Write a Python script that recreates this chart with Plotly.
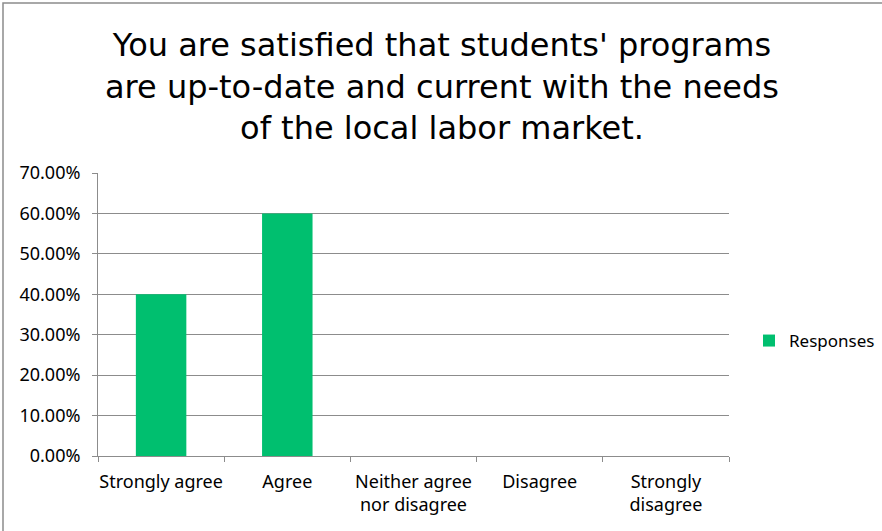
import plotly.graph_objects as go

categories = ["Strongly agree", "Agree", "Neither agree<br>nor disagree", "Disagree", "Strongly<br>disagree"]
responses = [0.40, 0.60, 0.0, 0.0, 0.0]
series_name = "Responses"
title_text = "You are satisfied that students' programs<br>are up-to-date and current with the needs<br>of the local labor market."

W, H = 882, 531
L, R, T, B = 98, 153, 173, 75
pw, ph = W - L - R, H - T - B

def px_x(x):
    return (x - L) / pw

def px_y(y):
    return (H - B - y) / ph

fig = go.Figure()
fig.add_trace(go.Bar(
    x=categories, y=responses, name=series_name,
    marker=dict(color="#00BF6F", line=dict(width=0)),
    width=0.4, showlegend=True,
))

grid = "#8C8C8C"
fig.update_layout(
    width=W, height=H,
    margin=dict(l=L, r=R, t=T, b=B, autoexpand=False),
    paper_bgcolor="white", plot_bgcolor="white",
    font=dict(family="Noto Sans, Open Sans, sans-serif", size=18, color="#000000"),
    showlegend=True,
    legend=dict(x=px_x(749), y=px_y(341), xanchor="left", yanchor="middle",
                font=dict(size=17), bgcolor="rgba(0,0,0,0)", itemwidth=30,
                traceorder="normal"),
    bargap=0.6,
)
fig.update_xaxes(
    type="category", showline=True, linecolor=grid, linewidth=1,
    ticks="outside", ticklen=5, tickcolor=grid, tickson="boundaries",
    showgrid=False, tickfont=dict(size=18), tickangle=0, ticklabelstandoff=9,
)
fig.update_yaxes(
    range=[0, 0.7001], dtick=0.1, tickformat=".2%",
    showline=True, linecolor=grid, linewidth=1,
    ticks="outside", ticklen=5, tickcolor=grid,
    showgrid=True, gridcolor=grid, gridwidth=1, zeroline=False,
    tickfont=dict(size=18), ticklabelstandoff=8,
)
fig.add_annotation(
    text=title_text, xref="paper", yref="paper",
    x=px_x(442), y=px_y(86), xanchor="center", yanchor="middle",
    showarrow=False, align="center",
    font=dict(family="DejaVu Sans, Liberation Sans, sans-serif", size=32, color="#000000"),
)
fig.add_shape(
    type="rect", xref="paper", yref="paper",
    x0=px_x(3), x1=px_x(900), y0=px_y(560), y1=px_y(3),
    line=dict(color="#8C8C8C", width=1.5), fillcolor="rgba(0,0,0,0)", layer="below",
)
fig.write_html("out.html", config={"displayModeBar": False},
               post_script="document.body.style.margin='0';document.body.style.overflow='hidden';")
